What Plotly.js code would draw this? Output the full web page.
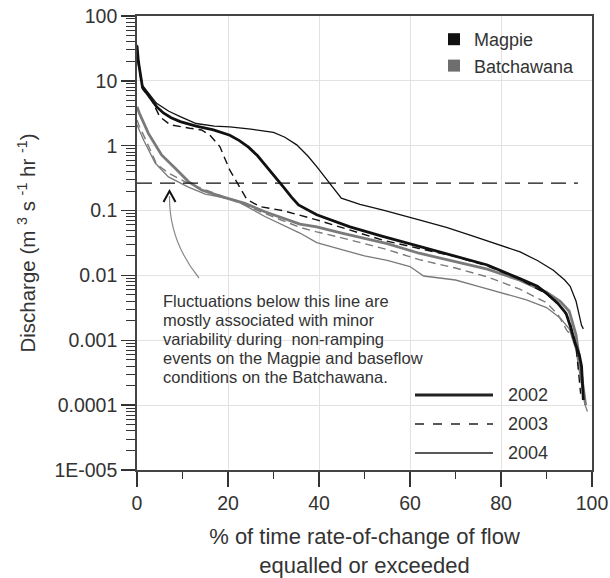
<!DOCTYPE html>
<html><head><meta charset="utf-8">
<script src="https://cdn.plot.ly/plotly-3.0.1.min.js"></script>
<style>html,body{margin:0;padding:0;background:#fff}#chart{width:610px;height:578px}</style>
</head><body><div id="chart"></div>
<script>
// ---- data ----
const magpie2002X = [0, 0.3, 1.2, 2.5, 4.3, 5.8, 7.5, 9.5, 13, 16.8, 20.4, 22.5, 24.5, 26.5, 28.5, 30.5, 32.2, 34, 35.5, 39.5, 46.8, 54, 62, 69.5, 77, 84, 88, 90, 92.5, 94.3, 95.3, 96.3, 97.2, 97.7, 98.1];
const magpie2002Y = [35, 20, 8, 6, 4.0, 3.2, 2.7, 2.35, 2.0, 1.75, 1.45, 1.2, 0.95, 0.7, 0.48, 0.33, 0.23, 0.16, 0.122, 0.086, 0.056, 0.04, 0.028, 0.0205, 0.0145, 0.009, 0.0068, 0.0053, 0.0037, 0.0026, 0.0016, 0.0009, 0.0006, 0.0004, 0.00012];

const magpie2003X = [0, 0.3, 1.2, 3.2, 5, 7.3, 11.6, 14.2, 16, 18.2, 20.4, 22.6, 24.1, 27, 32, 39.5, 46.8, 54, 62, 70, 77, 84, 90, 93, 95, 96.5, 97.5];
const magpie2003Y = [33, 18, 7.5, 5.1, 2.8, 2.1, 1.86, 1.75, 1.46, 0.97, 0.42, 0.233, 0.15, 0.115, 0.1, 0.072, 0.05, 0.035, 0.026, 0.0195, 0.014, 0.0088, 0.0052, 0.0034, 0.0021, 0.0008, 0.00015];

const magpie2004X = [0, 0.3, 1.2, 2.5, 4.3, 7, 9.5, 13, 17, 20.4, 25, 30, 32.5, 35.1, 37.5, 39.5, 42.4, 44.9, 49, 54.1, 62, 68, 73.2, 79, 84.2, 88, 91.5, 94, 95.2, 96.5, 97.7, 98.1];
const magpie2004Y = [36, 20, 8.5, 6.5, 4.5, 3.4, 2.8, 2.2, 2.0, 1.95, 1.8, 1.6, 1.35, 1.03, 0.7, 0.475, 0.26, 0.155, 0.125, 0.102, 0.072, 0.055, 0.042, 0.031, 0.023, 0.017, 0.012, 0.0085, 0.0068, 0.004, 0.0017, 0.0015];

const batch2002X = [0, 0.5, 2.5, 5.4, 8.4, 11.3, 14.2, 18.6, 23.7, 28.1, 35.8, 39.5, 45, 55, 62, 70, 77, 84, 90, 93, 95, 96.5, 97.5, 98.6];
const batch2002Y = [4.0, 3.2, 1.55, 0.72, 0.45, 0.28, 0.207, 0.164, 0.129, 0.096, 0.062, 0.056, 0.045, 0.031, 0.022, 0.0165, 0.0125, 0.0085, 0.0055, 0.004, 0.0028, 0.0012, 0.0004, 0.0001];

const batch2003X = [0, 0.5, 2, 4.3, 6.9, 10.5, 14.2, 18.6, 24, 28.1, 35.8, 39.5, 45, 55, 62, 70, 77, 84, 90, 92.5, 94.4, 96.6, 97.5];
const batch2003Y = [2.5, 2.0, 1.2, 0.52, 0.38, 0.28, 0.22, 0.168, 0.12, 0.09, 0.055, 0.047, 0.038, 0.025, 0.0175, 0.013, 0.0095, 0.0062, 0.0038, 0.0025, 0.00145, 0.0009, 0.0004];

const batch2004X = [0, 0.5, 1.5, 4, 6.9, 11.3, 15, 21.5, 28.1, 35.8, 39.5, 45, 50, 55, 60, 63, 66, 70, 75, 80.5, 85.6, 90, 93, 95, 96.5, 97.5, 98.5, 99];
const batch2004Y = [2.1, 1.7, 1.2, 0.54, 0.33, 0.23, 0.18, 0.146, 0.081, 0.045, 0.032, 0.025, 0.02, 0.017, 0.0137, 0.0098, 0.0093, 0.0085, 0.0068, 0.0053, 0.0042, 0.0032, 0.0022, 0.0015, 0.0007, 0.00025, 0.0001, 0.00008];

const thresholdX = [0, 96.9];
const thresholdY = [0.265, 0.265];

const yTickVals = [1e-5, 1e-4, 1e-3, 1e-2, 0.1, 1, 10, 100];
const yTickText = ["1E-005", "0.0001", "0.001", "0.01", "0.1", "1", "10", "100"];
const xTickVals = [0, 20, 40, 60, 80, 100];
const riverNames = ["Magpie", "Batchawana"];
const yearNames = ["2002", "2003", "2004"];
const noteLines = [
  "Fluctuations below this line are",
  "mostly associated with minor",
  "variability during  non-ramping",
  "events on the Magpie and baseflow",
  "conditions on the Batchawana."
];

// ---- styles ----
const BLACK = '#111111', GRAY = '#7a7a7a', TXT = '#333333';
const FONT = 'Liberation Sans, Arial, sans-serif';
function line(x, y, color, width, dash) {
  return {x: x, y: y, type: 'scatter', mode: 'lines', showlegend: false, hoverinfo: 'skip',
          line: {color: color, width: width, dash: dash || 'solid'}};
}
const traces = [
  line(batch2004X, batch2004Y, GRAY, 1.3),
  line(batch2003X, batch2003Y, GRAY, 1.4, '8px,5px'),
  line(batch2002X, batch2002Y, GRAY, 2.8),
  line(magpie2004X, magpie2004Y, BLACK, 1.3),
  line(magpie2003X, magpie2003Y, BLACK, 1.4, '8px,5px'),
  line(magpie2002X, magpie2002Y, BLACK, 2.8),
  line(thresholdX, thresholdY, BLACK, 1.2, '15px,8px'),
  {x: [null], y: [null], type: 'scatter', mode: 'markers', name: riverNames[0],
   marker: {symbol: 'square', size: 12, color: BLACK}},
  {x: [null], y: [null], type: 'scatter', mode: 'markers', name: riverNames[1],
   marker: {symbol: 'square', size: 12, color: '#6e6e6e'}}
];

// minor tick positions for log axis (2..9 per decade)
const yMinor = [];
for (let e = -5; e < 2; e++) for (let m = 2; m <= 9; m++) yMinor.push(m * Math.pow(10, e));

// paper-coordinate helpers (plot area: x 137..592, y 16..470)
const L = 137, R = 592, T = 16, B = 470;
const px = X => (X - L) / (R - L);
const py = Y => (B - Y) / (B - T);

const shapes = [];
const annotations = [];
const legendLineY = [395, 424, 453];
const legendStyles = [{w: 3, d: 'solid'}, {w: 1.3, d: 'dash'}, {w: 1.3, d: 'solid'}];
yearNames.forEach((yr, i) => {
  shapes.push({type: 'line', xref: 'paper', yref: 'paper', x0: px(415), x1: px(493),
               y0: py(legendLineY[i]), y1: py(legendLineY[i]),
               line: {color: '#222', width: legendStyles[i].w, dash: legendStyles[i].d}});
  annotations.push({xref: 'paper', yref: 'paper', x: px(506), y: py(legendLineY[i]),
                    xanchor: 'left', yanchor: 'middle', showarrow: false, text: yr,
                    font: {family: FONT, size: 18, color: TXT}});
});
const noteY = [300.7, 320, 339.3, 357.7, 376.7];
noteLines.forEach((t, i) => {
  annotations.push({xref: 'paper', yref: 'paper', x: px(161), y: py(noteY[i]),
                    xanchor: 'left', yanchor: 'middle', showarrow: false, text: t,
                    font: {family: FONT, size: 16.5, color: TXT}});
});
// curved pointer
shapes.push({type: 'path', xref: 'paper', yref: 'paper',
  path: `M ${px(199)} ${py(278)} Q ${px(169)} ${py(241)} ${px(169.5)} ${py(196)}`,
  line: {color: '#8a8a8a', width: 1.2}});
shapes.push({type: 'path', xref: 'paper', yref: 'paper',
  path: `M ${px(163.5)} ${py(202)} L ${px(169.5)} ${py(191)} L ${px(175.5)} ${py(202)}`,
  line: {color: '#111', width: 2}});

const layout = {
  width: 610, height: 578,
  margin: {l: L, r: 610 - R, t: T, b: 578 - B, pad: 0},
  paper_bgcolor: '#fff', plot_bgcolor: '#fff',
  font: {family: FONT, color: TXT},
  showlegend: true,
  legend: {x: px(434), y: py(21), xanchor: 'left', yanchor: 'top', bgcolor: 'rgba(0,0,0,0)',
           font: {family: FONT, size: 18, color: TXT}, itemwidth: 30, tracegroupgap: 0},
  xaxis: {
    range: [0, 100], tickvals: xTickVals, ticks: 'outside', ticklen: 15, tickwidth: 1.5, tickcolor: '#333',
    showline: true, linecolor: '#444', linewidth: 1.8, mirror: true,
    showgrid: true, gridcolor: '#e2e2e2', gridwidth: 1, zeroline: false,
    tickfont: {family: FONT, size: 19.5, color: TXT},
    minor: {dtick: 10, tick0: 0, ticks: 'outside', ticklen: 7, tickwidth: 1.5, tickcolor: '#333', showgrid: false},
    title: {text: '% of time rate-of-change of flow<br>equalled or exceeded', font: {family: FONT, size: 22, color: TXT}, standoff: 16}
  },
  yaxis: {
    type: 'log', range: [-5, 2], tickvals: yTickVals, ticktext: yTickText,
    ticks: 'outside', ticklen: 14, tickwidth: 1.5, tickcolor: '#333',
    showline: true, linecolor: '#444', linewidth: 1.8, mirror: true,
    showgrid: true, gridcolor: '#e2e2e2', gridwidth: 1, zeroline: false,
    tickfont: {family: FONT, size: 19.5, color: TXT},
    minor: {tickvals: yMinor, ticks: 'outside', ticklen: 9, tickwidth: 1, tickcolor: '#333', showgrid: false},
    title: {text: 'Discharge (m <sup>3</sup> s <sup>-1</sup> hr <sup>-1</sup>)', font: {family: FONT, size: 20.5, color: TXT}, standoff: 13}
  },
  shapes: shapes,
  annotations: annotations
};
Plotly.newPlot('chart', traces, layout, {staticPlot: true});
</script></body></html>
